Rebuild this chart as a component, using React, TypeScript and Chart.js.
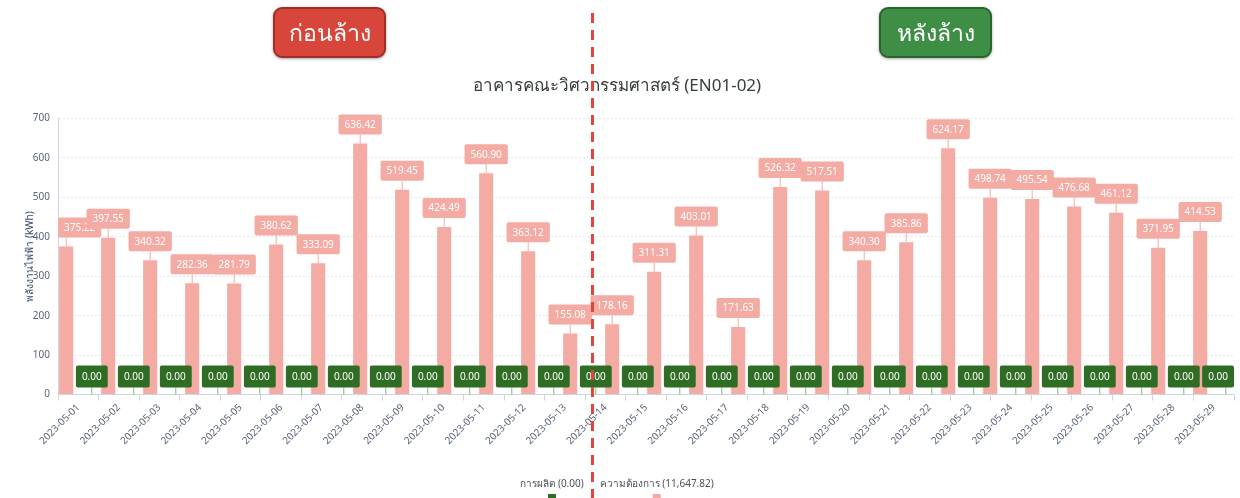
import React, { useEffect, useRef } from 'react';
import { Chart, registerables } from 'chart.js';

Chart.register(...registerables);

// ---------- data ----------
const dataDates = [
  '2023-05-01', '2023-05-02', '2023-05-03', '2023-05-04', '2023-05-05', '2023-05-06', '2023-05-07',
  '2023-05-08', '2023-05-09', '2023-05-10', '2023-05-11', '2023-05-12', '2023-05-13', '2023-05-14',
  '2023-05-15', '2023-05-16', '2023-05-17', '2023-05-18', '2023-05-19', '2023-05-20', '2023-05-21',
  '2023-05-22', '2023-05-23', '2023-05-24', '2023-05-25', '2023-05-26', '2023-05-27', '2023-05-28',
];
const tickDates = [...dataDates, '2023-05-29'];

const demandValues = [
  375.22, 397.55, 340.32, 282.36, 281.79, 380.62, 333.09, 636.42, 519.45, 424.49, 560.9, 363.12, 155.08, 178.16,
  311.31, 403.01, 171.63, 526.32, 517.51, 340.3, 385.86, 624.17, 498.74, 495.54, 476.68, 461.12, 371.95, 414.53,
];
const productionValues = [
  0, 0, 0, 0, 0, 0, 0, 0, 0, 0, 0, 0, 0, 0,
  0, 0, 0, 0, 0, 0, 0, 0, 0, 0, 0, 0, 0, 0,
];

const seriesNames = ['การผลิต', 'ความต้องการ'];
const legendTotals = [0.0, 11647.82];

const chartTitle = 'อาคารคณะวิศวกรรมศาสตร์ (EN01-02)';
const yAxisTitle = 'พลังงานไฟฟ้า (kWh)';
const yMin = 0;
const yMax = 700;
const yStep = 100;

const beforeText = 'ก่อนล้าง';
const afterText = 'หลังล้าง';
// divider position on the date axis (between 05-13 and 05-14 ticks)
const dividerValue = 12.68;

// ---------- styles ----------
const FONT = '"Noto Sans", "Open Sans", sans-serif';
const PINK = '#F4ABA3';
const GREEN_BOX = '#2F6C24';
const GREEN_LINE = '#7DC06B';
const AXIS_COLOR = '#cfd6e3';
const TICK_TEXT = '#5b6577';

function roundRect(ctx: CanvasRenderingContext2D, x: number, y: number, w: number, h: number, r: number) {
  ctx.beginPath();
  ctx.moveTo(x + r, y);
  ctx.lineTo(x + w - r, y);
  ctx.quadraticCurveTo(x + w, y, x + w, y + r);
  ctx.lineTo(x + w, y + h - r);
  ctx.quadraticCurveTo(x + w, y + h, x + w - r, y + h);
  ctx.lineTo(x + r, y + h);
  ctx.quadraticCurveTo(x, y + h, x, y + h - r);
  ctx.lineTo(x, y + r);
  ctx.quadraticCurveTo(x, y, x + r, y);
  ctx.closePath();
}

const boxLabelPlugin = {
  id: 'boxLabels',
  afterDatasetsDraw(chart: any) {
    const ctx: CanvasRenderingContext2D = chart.ctx;
    const area = chart.chartArea;
    ctx.save();
    chart.data.datasets.forEach((ds: any, di: number) => {
      const meta = chart.getDatasetMeta(di);
      const st = ds.labelStyle;
      meta.data.forEach((el: any, i: number) => {
        const v = ds.data[i] as number;
        const text = v.toFixed(2);
        ctx.font = `10px ${FONT}`;
        const tw = ctx.measureText(text).width;
        const w = tw + st.padX * 2;
        const h = st.height;
        let cx = el.x;
        cx = Math.max(area.left + w / 2, Math.min(area.right - w / 2, cx));
        const bottom = el.y - st.gap;
        const top = bottom - h;
        ctx.strokeStyle = st.line;
        ctx.lineWidth = 1;
        ctx.beginPath();
        ctx.moveTo(el.x, bottom);
        ctx.lineTo(el.x, el.y);
        ctx.stroke();
        roundRect(ctx, cx - w / 2, top, w, h, 2);
        ctx.fillStyle = st.bg;
        ctx.fill();
        ctx.fillStyle = '#ffffff';
        ctx.textAlign = 'center';
        ctx.textBaseline = 'middle';
        ctx.fillText(text, cx, top + h / 2 + 0.5);
      });
    });
    ctx.restore();
  },
};

const overlayPlugin = {
  id: 'overlay',
  afterDraw(chart: any) {
    const ctx: CanvasRenderingContext2D = chart.ctx;
    ctx.save();
    // custom legend
    ctx.font = `10px ${FONT}`;
    ctx.textBaseline = 'middle';
    ctx.textAlign = 'left';
    const items = chart.data.datasets.slice().sort((a: any, b: any) => a.legendOrder - b.legendOrder);
    const texts = items.map(
      (ds: any) =>
        `${ds.label} (${ds.legendTotal.toLocaleString('en-US', { minimumFractionDigits: 2, maximumFractionDigits: 2 })})`
    );
    const widths = texts.map((t: string) => ctx.measureText(t).width);
    const gap = 16;
    const total = widths.reduce((a: number, b: number) => a + b, 0) + gap * (texts.length - 1);
    let x = chart.width / 2 - total / 2 - 3;
    const ty = chart.height - 14;
    texts.forEach((t: string, k: number) => {
      ctx.fillStyle = '#4a4f57';
      ctx.fillText(t, x, ty);
      ctx.fillStyle = items[k].legendColor;
      ctx.fillRect(x + widths[k] / 2 - 4, chart.height - 4, 8, 8);
      x += widths[k] + gap;
    });
    // dashed divider
    const dx = chart.scales.xTicks.getPixelForValue(dividerValue);
    ctx.strokeStyle = '#E0453C';
    ctx.lineWidth = 3;
    ctx.setLineDash([10, 7]);
    ctx.beginPath();
    ctx.moveTo(dx, 13);
    ctx.lineTo(dx, chart.height);
    ctx.stroke();
    ctx.restore();
  },
};

export default function App() {
  const canvasRef = useRef<HTMLCanvasElement | null>(null);

  useEffect(() => {
    document.body.style.margin = '0';
    const canvas = canvasRef.current;
    if (!canvas) return;
    const chart = new Chart(canvas, {
      type: 'bar',
      data: {
        labels: dataDates,
        datasets: [
          {
            label: seriesNames[1],
            data: demandValues,
            backgroundColor: PINK,
            borderWidth: 0,
            categoryPercentage: 1.22,
            barPercentage: 0.55,
            labelStyle: { bg: PINK, line: PINK, height: 20, gap: 9, padX: 6 },
            legendColor: PINK,
            legendTotal: legendTotals[1],
            legendOrder: 1,
          } as any,
          {
            label: seriesNames[0],
            data: productionValues,
            backgroundColor: GREEN_BOX,
            borderWidth: 0,
            categoryPercentage: 1.22,
            barPercentage: 0.55,
            labelStyle: { bg: GREEN_BOX, line: GREEN_LINE, height: 22, gap: 7, padX: 6 },
            legendColor: GREEN_BOX,
            legendTotal: legendTotals[0],
            legendOrder: 0,
          } as any,
        ],
      },
      options: {
        responsive: true,
        maintainAspectRatio: false,
        animation: false,
        layout: { padding: { left: 0, right: 6, top: 0, bottom: 50 } },
        plugins: {
          legend: { display: false },
          tooltip: { enabled: false },
          title: {
            display: true,
            text: chartTitle,
            color: '#373d3f',
            font: { size: 17, weight: 'normal', family: FONT },
            padding: { top: 76, bottom: 22 },
          },
        },
        scales: {
          x: {
            type: 'category',
            display: false,
            offset: true,
          },
          xTicks: {
            type: 'linear',
            position: 'bottom',
            min: 0,
            max: tickDates.length - 1,
            afterBuildTicks: (scale: any) => {
              scale.ticks = tickDates.map((_, i) => ({ value: i }));
            },
            ticks: {
              stepSize: 1,
              autoSkip: false,
              maxRotation: 45,
              minRotation: 45,
              color: TICK_TEXT,
              font: { size: 10, family: FONT },
              padding: 1,
              callback: (v: any) => tickDates[v] ?? '',
            },
            grid: { drawOnChartArea: false, drawTicks: true, tickLength: 6, color: AXIS_COLOR },
            border: { display: true, color: AXIS_COLOR },
          },
          y: {
            min: yMin,
            max: yMax,
            afterFit: (scale: any) => {
              scale.width = 58;
            },
            ticks: {
              stepSize: yStep,
              color: TICK_TEXT,
              font: { size: 10, family: FONT },
              padding: 8,
            },
            grid: { color: 'rgba(120,130,150,0.18)', drawTicks: false },
            border: { display: true, color: AXIS_COLOR, dash: [2, 2] },
            title: {
              display: true,
              text: yAxisTitle,
              color: '#3a4a6a',
              font: { size: 10, family: FONT },
              padding: { top: 24, bottom: 0 },
            },
          },
        },
      } as any,
      plugins: [boxLabelPlugin, overlayPlugin],
    });
    return () => chart.destroy();
  }, []);

  const badge = (bg: string, border: string): React.CSSProperties => ({
    position: 'absolute',
    top: 7,
    width: 113,
    height: 51,
    boxSizing: 'border-box',
    background: bg,
    border: `2px solid ${border}`,
    borderRadius: 9,
    color: '#ffffff',
    fontSize: 23,
    fontFamily: FONT,
    display: 'flex',
    alignItems: 'center',
    justifyContent: 'center',
    boxShadow: '0 1px 3px rgba(0,0,0,0.35)',
  });

  return (
    <div style={{ position: 'relative', width: 1240, height: 498, background: '#ffffff', overflow: 'hidden' }}>
      <canvas ref={canvasRef} />
      <div style={{ ...badge('#D8453B', '#9e2f27'), left: 273 }}>{beforeText}</div>
      <div style={{ ...badge('#3F8E45', '#2a652e'), left: 879 }}>{afterText}</div>
    </div>
  );
}
